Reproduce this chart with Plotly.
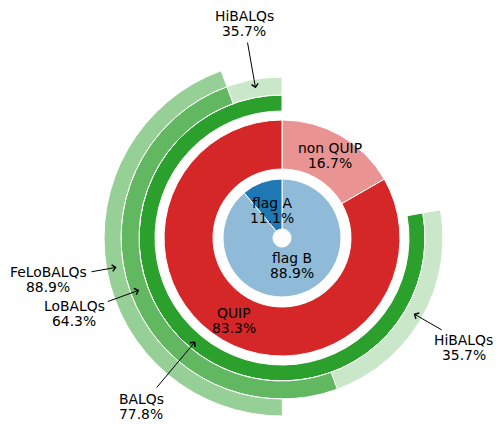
import math
import plotly.graph_objects as go

# data
flag_labels = ["flag A", "flag B"]
flag_values = [11.1, 88.9]

quip_labels = ["QUIP", "non QUIP"]
quip_values = [83.3, 16.7]

bal_label = "BALQs"
bal_pct = 77.8            # share of all quasars
lobal_label = "LoBALQs"
lobal_pct = 64.3          # share of BALQs
hibal_label = "HiBALQs"
hibal_pct = 35.7          # share of BALQs
felobal_label = "FeLoBALQs"
felobal_pct = 88.9        # share of LoBALQs

# layout constants (page pixels); the page body has an 8px margin
W, H = 503, 424
OFF = 8
FW, FH = W - OFF, H - OFF
CX, CY = 282, 238
LO_OFFSET = 20            # LoBALQs arc starts 20 deg left of 12 o'clock
LINE = 15                 # line spacing of the two-line labels

BLUE, BLUE_L = '#1f77b4', '#8fbbd9'
RED, RED_L = '#d62728', '#ea9393'
GREEN, GREEN_M, GREEN_L, GREEN_P = '#2ca02c', '#61b861', '#96d096', '#cae7ca'
NONE = 'rgba(0,0,0,0)'
FONT = dict(family='DejaVu Sans', size=13.9, color='black')


def paper(x, y):
    return (x - OFF) / FW, 1 - (y - OFF) / FH


def dom(r):
    x0, y1 = paper(CX - r, CY - r)
    x1, y0 = paper(CX + r, CY + r)
    return dict(x=[x0, x1], y=[y0, y1])


def polar(r, ang):
    a = math.radians(ang)
    return CX + r * math.cos(a), CY - r * math.sin(a)


def ring(values, colors, r_out, r_in, rotation=0):
    # slices run counter-clockwise from the start angle (matplotlib style)
    values, colors = values[::-1], colors[::-1]
    return go.Pie(
        values=values, sort=False, direction='clockwise', rotation=rotation,
        hole=r_in / r_out, domain=dom(r_out), textinfo='none', hoverinfo='skip',
        marker=dict(colors=colors,
                    line=dict(color='white', width=[0 if c == NONE else 1 for c in colors])),
        showlegend=False,
    )


bal_share = bal_pct
lo_share = bal_pct * lobal_pct / 100
felo_share = lo_share * felobal_pct / 100

fig = go.Figure()
fig.add_trace(ring(flag_values, [BLUE, BLUE_L], 59, 9))
fig.add_trace(ring(quip_values, [RED, RED_L], 118, 69))
fig.add_trace(ring([bal_share, 100 - bal_share], [GREEN, NONE], 143, 127))
fig.add_trace(ring([bal_share, 100 - bal_share], [GREEN_P, NONE], 161, 143))
fig.add_trace(ring([lo_share, 100 - lo_share], [GREEN_M, NONE], 161, 143, rotation=-LO_OFFSET))
fig.add_trace(ring([felo_share, 100 - felo_share], [GREEN_L, NONE], 178, 161, rotation=-LO_OFFSET))

annotations = []


def text_block(lines, cx, cy):
    y0 = cy - LINE * (len(lines) - 1) / 2
    for i, line in enumerate(lines):
        x, y = paper(cx, y0 + i * LINE)
        annotations.append(dict(
            x=x, y=y, xref='paper', yref='paper', showarrow=False,
            text=line, font=FONT, xanchor='center', yanchor='middle',
        ))


def inner_labels(labels, values, r):
    total = sum(values)
    cum = 0
    for lab, v in zip(labels, values):
        mid = 90 + 360 * (cum + v / 2) / total
        cum += v
        text_block([lab, f"{v:.1f}%"], *polar(r, mid))


inner_labels(flag_labels, flag_values, 29.5)
inner_labels(quip_labels, quip_values, 95)


def arrow_label(label, pct, ang, r_head, r_tail, r_text, dx=0):
    hx, hy = polar(r_head, ang)
    tx, ty = polar(r_tail, ang)
    x, y = paper(hx, hy)
    annotations.append(dict(
        x=x, y=y, xref='paper', yref='paper', ax=tx - hx, ay=ty - hy, text='',
        showarrow=True, arrowhead=4, arrowsize=1.3, arrowwidth=1, arrowcolor='black',
    ))
    lx, ly = polar(r_text, ang)
    text_block([label, f"{pct}%"], lx + dx, ly)


bal_mid = 90 + 360 * bal_share / 100 / 2
lo_start = 90 + LO_OFFSET
lo_mid = lo_start + 360 * lo_share / 100 / 2
felo_mid = lo_start + 360 * felo_share / 100 / 2
hi_top_mid = 90 + LO_OFFSET / 2
hi_right_mid = (lo_start + 360 * lo_share / 100 + 90 + 360 * bal_share / 100) / 2

arrow_label(bal_label, bal_pct, bal_mid, 135, 197, 219.5)
arrow_label(lobal_label, lobal_pct, lo_mid, 152, 187, 221)
arrow_label(felobal_label, felobal_pct, felo_mid, 168, 195, 237.5)
arrow_label(hibal_label, hibal_pct, hi_top_mid, 152, 200, 218)
arrow_label(hibal_label, hibal_pct, hi_right_mid, 152, 186, 220, dx=-9)

fig.update_layout(
    width=FW, height=FH,
    margin=dict(l=0, r=0, t=0, b=0),
    paper_bgcolor='white', plot_bgcolor='white',
    showlegend=False,
    annotations=annotations,
)

fig.write_html("out.html")
